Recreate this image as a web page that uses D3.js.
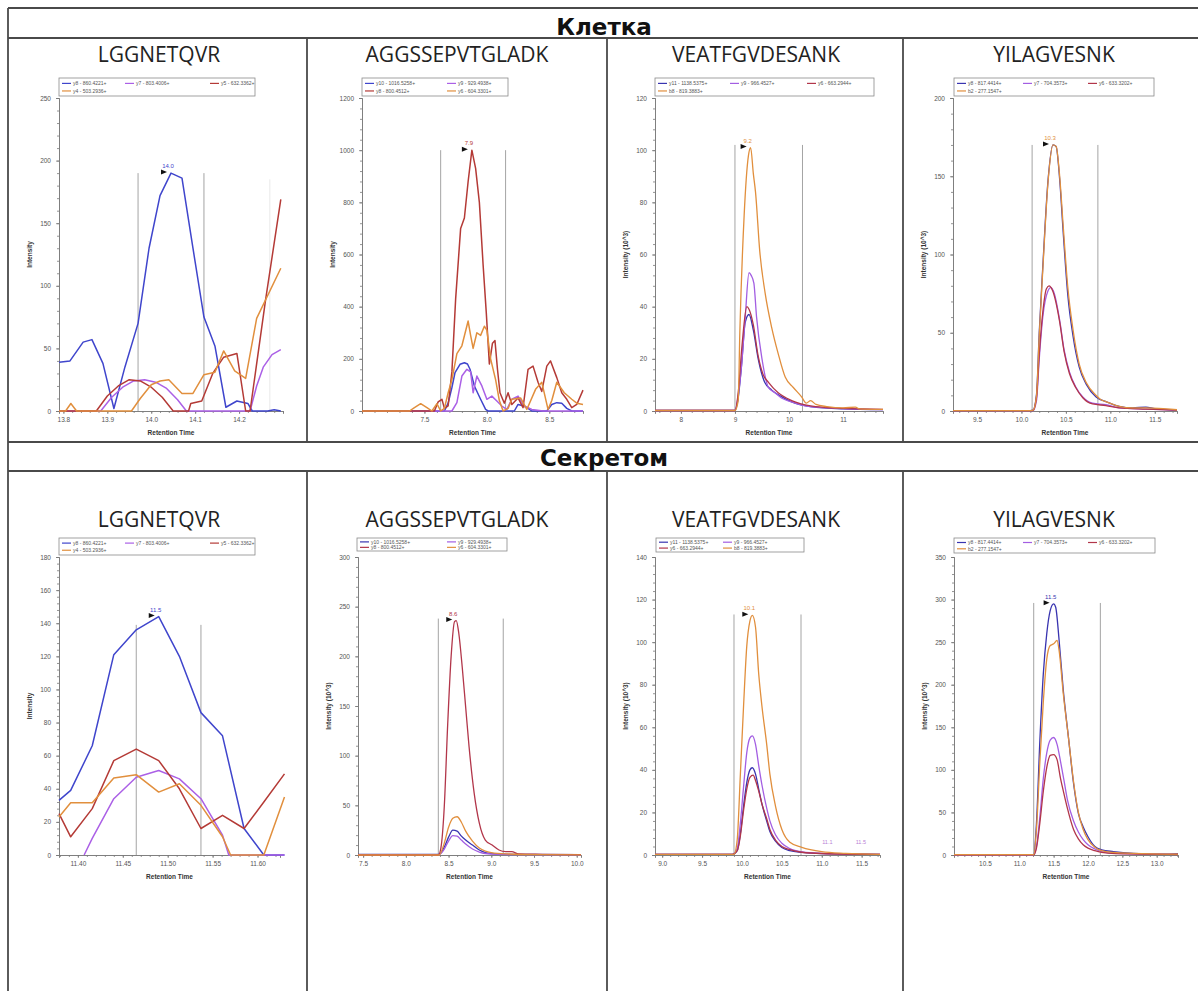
<!DOCTYPE html>
<html>
<head>
<meta charset="utf-8">
<script src="https://cdn.jsdelivr.net/npm/d3@7"></script>
<style>
  body { margin: 0; background: #fff; }
  svg { display: block; }
</style>
</head>
<body>
<svg id="fig" width="1198" height="991"></svg>
<script>
// ---- data ----
const rowTitles = ["Клетка", "Секретом"];
const peptides = ["LGGNETQVR", "AGGSSEPVTGLADK", "VEATFGVDESANK", "YILAGVESNK"];
const ionLabels = [
  ["y8 - 860.4221+", "y7 - 803.4006+", "y5 - 632.3362+", "y4 - 503.2936+"],
  ["y10 - 1016.5258+", "y9 - 929.4938+", "y8 - 800.4512+", "y6 - 604.3301+"],
  ["y11 - 1138.5375+", "y9 - 966.4527+", "y6 - 663.2944+", "b8 - 819.3883+"],
  ["y8 - 817.4414+", "y7 - 704.3573+", "y6 - 633.3202+", "b2 - 277.1547+"]
];

// cell, LGGNETQVR  [retention time, intensity]
const c1_y8 = [[13.79,39],[13.815,40],[13.845,55],[13.865,57],[13.89,38],[13.915,2],[13.94,35],[13.97,70],[13.995,130],[14.02,172],[14.045,190],[14.07,186],[14.095,130],[14.12,75],[14.145,52],[14.17,3],[14.195,8],[14.22,6],[14.23,0],[14.265,0],[14.28,1],[14.295,0]];
const c1_y7 = [[13.79,0],[13.885,0],[13.91,11],[13.935,19],[13.96,24],[13.985,25],[14.01,23],[14.035,18],[14.06,9],[14.08,0],[14.225,0],[14.24,20],[14.255,35],[14.275,45],[14.295,49]];
const c1_y5 = [[13.79,0],[13.875,0],[13.9,12],[13.925,20],[13.95,25],[13.975,24],[14.0,19],[14.025,11],[14.05,0],[14.085,0],[14.09,6],[14.115,8],[14.14,30],[14.165,43],[14.195,46],[14.215,0],[14.225,0],[14.26,88],[14.295,169]];
const c1_y4 = [[13.79,0],[13.805,0],[13.817,6],[13.83,0],[13.955,0],[13.975,10],[14.0,21],[14.02,24],[14.04,25],[14.07,14],[14.095,14],[14.12,29],[14.145,31],[14.165,48],[14.19,32],[14.215,26],[14.24,74],[14.295,114]];

// cell, AGGSSEPVTGLADK
const c2_y10 = [[7.0,0],[7.66,0],[7.69,30],[7.72,90],[7.745,147],[7.785,179],[7.82,185],[7.845,180],[7.865,160],[7.9,96],[7.95,45],[7.99,6],[8.01,0],[8.22,0],[8.25,25],[8.29,20],[8.32,13],[8.36,0],[8.48,0],[8.52,25],[8.56,32],[8.6,30],[8.64,10],[8.68,0],[8.77,0]];
const c2_y9 = [[7.0,0],[7.72,0],[7.76,32],[7.8,134],[7.84,160],[7.87,150],[7.89,70],[7.92,134],[7.96,96],[8.0,45],[8.04,57],[8.08,38],[8.12,19],[8.16,6],[8.2,45],[8.25,57],[8.3,19],[8.36,6],[8.45,0],[8.77,0]];
const c2_y8 = [[7.0,0],[7.58,0],[7.61,35],[7.64,45],[7.66,10],[7.69,20],[7.72,150],[7.75,430],[7.79,700],[7.82,740],[7.85,880],[7.88,1000],[7.91,930],[7.94,800],[7.97,560],[7.995,380],[8.02,180],[8.045,260],[8.065,270],[8.085,160],[8.105,70],[8.14,30],[8.17,70],[8.2,25],[8.25,50],[8.29,13],[8.33,160],[8.37,172],[8.41,110],[8.44,75],[8.48,172],[8.51,192],[8.56,128],[8.6,70],[8.64,45],[8.68,13],[8.72,25],[8.77,80]];
const c2_y6 = [[7.0,0],[7.38,0],[7.42,13],[7.47,28],[7.52,13],[7.56,0],[7.6,28],[7.63,0],[7.66,10],[7.69,70],[7.72,120],[7.76,220],[7.8,250],[7.85,345],[7.87,290],[7.89,240],[7.92,300],[7.95,290],[7.98,325],[8.0,310],[8.03,200],[8.07,120],[8.1,40],[8.13,0],[8.17,10],[8.2,45],[8.27,50],[8.32,6],[8.39,83],[8.44,110],[8.49,6],[8.52,40],[8.56,110],[8.62,70],[8.68,45],[8.72,30],[8.77,25]];

// cell, VEATFGVDESANK (x10^3)
const c3_y11 = [[7.52,0.2],[9.0,0.2],[9.06,5],[9.12,17],[9.19,34],[9.26,37],[9.34,31],[9.43,20],[9.55,11],[9.68,8],[9.86,5.5],[10.05,3.5],[10.4,1.7],[11.0,0.8],[11.74,0.5]];
const c3_y9 = [[7.52,0.2],[9.0,0.2],[9.06,6],[9.12,17],[9.19,36],[9.26,53],[9.3,52],[9.35,49],[9.4,36],[9.5,20],[9.62,9],[9.74,7],[9.86,5],[10.05,3.5],[10.3,2],[10.9,1],[11.74,0.5]];
const c3_y6 = [[7.52,0.2],[9.0,0.2],[9.06,7],[9.13,25],[9.22,40],[9.26,39],[9.34,33],[9.43,21],[9.52,14],[9.62,11],[9.8,7],[10.05,4],[10.4,2],[11.0,1],[11.74,0.6]];
const c3_b8 = [[7.52,0.2],[9.0,0.2],[9.06,4],[9.09,30],[9.17,75],[9.25,98],[9.29,101],[9.34,91],[9.38,84],[9.46,61],[9.56,45],[9.68,32],[9.8,22],[9.93,13],[10.08,9],[10.23,5.5],[10.32,3],[10.4,4],[10.5,2.5],[10.7,1.7],[11.0,1.2],[11.23,1.5],[11.3,0.8],[11.74,0.6]];

// cell, YILAGVESNK (x10^3)
const c4_y8 = [[9.23,0.3],[10.1,0.3],[10.13,0.5],[10.17,11],[10.2,50],[10.24,92],[10.3,148],[10.355,170],[10.39,169],[10.43,148],[10.47,114],[10.52,75],[10.58,48],[10.65,28],[10.73,17],[10.84,9],[10.95,6],[11.1,3],[11.25,2],[11.4,2.5],[11.5,1.5],[11.75,0.6]];
const c4_y7 = [[9.23,0.3],[10.13,0.3],[10.17,7],[10.2,33],[10.24,60],[10.3,77],[10.33,79],[10.37,75],[10.43,58],[10.48,39],[10.54,25],[10.61,15.5],[10.69,9],[10.8,5],[10.95,4],[11.1,2],[11.4,1.2],[11.75,0.6]];
const c4_y6 = [[9.23,0.3],[10.13,0.3],[10.17,9],[10.2,36],[10.24,63],[10.28,78],[10.31,80],[10.35,77],[10.43,57],[10.48,38],[10.54,24],[10.61,15],[10.69,8.5],[10.8,4.5],[10.95,3.5],[11.1,2],[11.4,1.2],[11.75,0.6]];
const c4_b2 = [[9.23,0.3],[10.1,0.3],[10.13,0.5],[10.17,10],[10.2,48],[10.24,90],[10.3,147],[10.355,170],[10.39,169],[10.43,150],[10.47,118],[10.52,80],[10.58,52],[10.65,30],[10.73,18],[10.84,10],[10.9,7],[10.95,6],[11.1,3],[11.25,2],[11.4,2],[11.75,0.8]];

// secretome, LGGNETQVR
const s1_y8 = [[11.379,33],[11.392,39],[11.416,66],[11.44,121],[11.465,136],[11.49,144],[11.513,120],[11.537,86],[11.561,72],[11.585,16],[11.607,0],[11.63,0]];
const s1_y7 = [[11.407,0],[11.416,10],[11.44,34],[11.465,47],[11.49,51],[11.513,46],[11.537,34],[11.561,12],[11.568,0],[11.63,0]];
const s1_y5 = [[11.379,25],[11.392,11],[11.416,28],[11.44,57],[11.465,64],[11.49,57],[11.513,40],[11.537,16],[11.561,24],[11.585,16],[11.607,32],[11.63,49]];
const s1_y4 = [[11.379,23],[11.392,31.5],[11.416,31.5],[11.44,46.5],[11.465,48.5],[11.49,38],[11.513,43],[11.537,30],[11.561,11],[11.57,0],[11.607,0],[11.63,35]];

// secretome, AGGSSEPVTGLADK (x10^3)
const s2_y10 = [[7.44,0.5],[8.38,0.5],[8.41,2],[8.45,8],[8.5,18],[8.55,25],[8.6,24],[8.65,19],[8.7,15],[8.78,10],[8.86,5],[8.93,2.5],[9.0,1.5],[9.2,0.6],[10.05,0.3]];
const s2_y9 = [[7.44,0.3],[8.38,0.3],[8.41,1.5],[8.45,6],[8.5,14],[8.55,19.5],[8.6,19],[8.65,15],[8.7,11],[8.78,6],[8.86,3],[8.93,1.5],[9.0,1],[9.3,0.4],[10.05,0.2]];
const s2_y8 = [[7.44,0],[8.38,0],[8.41,7],[8.45,49],[8.49,132],[8.53,200],[8.57,235],[8.59,236],[8.62,223],[8.66,189],[8.7,149],[8.74,109],[8.8,62],[8.86,32],[8.93,15],[9.01,10],[9.09,5],[9.17,3.4],[9.24,3.4],[9.32,1],[9.6,0.7],[10.05,0.3]];
const s2_y6 = [[7.44,0],[8.39,0],[8.45,12],[8.5,28],[8.55,37],[8.6,38.5],[8.65,33],[8.7,24],[8.78,14],[8.86,7],[8.93,4],[9.0,2.5],[9.2,1],[9.5,0.3],[10.05,0.2]];

// secretome, VEATFGVDESANK (x10^3)
const s3_y11 = [[8.91,0.3],[9.88,0.3],[9.94,2],[9.98,10],[10.02,23],[10.06,34],[10.1,40],[10.13,41],[10.17,38],[10.21,31],[10.25,24],[10.31,16],[10.35,11],[10.42,6.5],[10.5,3.5],[10.6,2],[10.75,1.2],[11.0,0.6],[11.73,0.3]];
const s3_y9 = [[8.91,0.3],[9.88,0.3],[9.94,3],[9.98,15],[10.02,32],[10.06,48],[10.1,55],[10.13,56],[10.17,52],[10.21,42],[10.25,33],[10.31,22],[10.35,16],[10.42,9.5],[10.5,5.5],[10.6,3],[10.75,1.5],[11.0,0.8],[11.73,0.3]];
const s3_y6 = [[8.91,0.3],[9.88,0.3],[9.94,2],[9.98,9],[10.02,21],[10.06,31],[10.1,36.5],[10.14,37.5],[10.17,35],[10.21,30],[10.25,24],[10.31,17],[10.35,12],[10.42,7],[10.5,4],[10.6,2.5],[10.75,1.3],[11.0,0.7],[11.73,0.3]];
const s3_b8 = [[8.91,0.3],[9.9,0.3],[9.94,7],[9.98,38],[10.02,70],[10.06,98],[10.1,110],[10.13,112.6],[10.17,107],[10.21,85],[10.25,70],[10.31,52],[10.35,38],[10.42,23],[10.5,12],[10.6,6],[10.75,3.6],[11.0,1.6],[11.3,0.8],[11.73,0.3]];

// secretome, YILAGVESNK (x10^3)
const s4_y8 = [[10.05,0.5],[11.21,0.5],[11.25,37],[11.3,135],[11.35,213],[11.4,260],[11.45,287],[11.5,295],[11.53,291],[11.58,252],[11.64,194],[11.72,135],[11.79,84],[11.86,49],[11.93,33],[12.0,21.5],[12.1,10],[12.2,6],[12.37,4],[12.66,2],[13.15,1],[13.31,1.5]];
const s4_y7 = [[10.05,0.3],[11.21,0.3],[11.25,10],[11.3,45],[11.35,90],[11.4,120],[11.45,135],[11.5,138],[11.55,130],[11.6,110],[11.65,88],[11.7,65],[11.79,40],[11.86,27],[11.93,18],[12.0,12],[12.1,7],[12.2,4],[12.4,2],[13.31,0.8]];
const s4_y6 = [[10.05,0.3],[11.21,0.3],[11.25,8],[11.3,38],[11.35,75],[11.4,103],[11.45,117],[11.5,118],[11.55,112],[11.6,90],[11.65,72],[11.7,55],[11.79,30],[11.86,19],[11.93,12],[12.0,8],[12.1,5],[12.2,3],[12.4,1.5],[13.31,0.6]];
const s4_b2 = [[10.05,0.5],[11.21,0.5],[11.25,30],[11.3,110],[11.35,180],[11.4,230],[11.45,246],[11.5,248],[11.55,252],[11.58,240],[11.64,190],[11.72,135],[11.79,86],[11.86,50],[11.93,30],[12.0,18],[12.1,9],[12.2,5],[12.37,3],[12.66,2],[13.31,1]];

// axis settings, integration bounds and apex labels
const xDomains = [[13.79,14.30],[7.0,8.77],[7.52,11.74],[9.23,11.75],[11.379,11.625],[7.44,10.05],[8.91,11.73],[10.05,13.31]];
const xTickVals = [[13.8,13.9,14.0,14.1,14.2],[7.5,8.0,8.5],[8,9,10,11],[9.5,10.0,10.5,11.0,11.5],
                   [11.40,11.45,11.50,11.55,11.60],[7.5,8.0,8.5,9.0,9.5,10.0],[9.0,9.5,10.0,10.5,11.0,11.5],[10.5,11.0,11.5,12.0,12.5,13.0]];
const yMaxes = [250,1200,120,200,180,300,140,350];
const ySteps = [50,200,20,50,20,50,20,50];
const boundaries = [[13.97,14.12],[7.63,8.15],[9.0,10.25],[10.12,10.86],[11.465,11.537],[8.38,9.14],[9.9,10.74],[11.21,12.18]];
const boundaryTops = [190,1000,102,170,139,238,113,296];
const apexes = [[14.045,190,"14.0",0],[7.88,1000,"7.9",2],[9.29,101,"9.2",3],[10.355,170,"10.3",3],
                [11.49,144,"11.5",0],[8.59,236,"8.6",2],[10.13,112.6,"10.1",3],[11.5,295,"11.5",0]];
const extraApexes = [[], [], [], [], [], [], [[11.07,3.5,"11.1"],[11.49,3.5,"11.5"]], []];

const panelSeries = [
  [c1_y8,c1_y7,c1_y5,c1_y4],[c2_y10,c2_y9,c2_y8,c2_y6],[c3_y11,c3_y9,c3_y6,c3_b8],[c4_y8,c4_y7,c4_y6,c4_b2],
  [s1_y8,s1_y7,s1_y5,s1_y4],[s2_y10,s2_y9,s2_y8,s2_y6],[s3_y11,s3_y9,s3_y6,s3_b8],[s4_y8,s4_y7,s4_y6,s4_b2]
];

// ---- layout ----
const W = 1198, H = 991;
const colX = [8, 307, 607, 903];
const hLines = [8, 38, 442, 471];
const titleX = [159, 457, 756, 1054];
const rowGeom = [
  {titleY: 62, y0: 411, y1: 98, legY: 78},
  {titleY: 527, y0: 855, y1: 557, legY: 538}
];
const plotX = [[59,283],[362,583],[655,883],[953,1177],[59,280],[358,581],[655,880],[954,1178]];
const legendBoxes = [
  {x:59, w:196, h:18, cols:[3,66,151]}, {x:362, w:146, h:18, cols:[3,85]},
  {x:655, w:219, h:18, cols:[3,75,152]}, {x:954, w:200, h:18, cols:[3,69,134]},
  {x:59, w:196, h:17, cols:[3,66,151]}, {x:357, w:150, h:13, cols:[3,90]},
  {x:656, w:148, h:14, cols:[3,67]}, {x:954, w:201, h:15, cols:[3,69,134]}
];
const smoothPanel = [false,false,true,true,false,true,true,true];
const scaled = [false,false,true,true,false,true,true,true];
const jaggedColors = ["#3f45cc", "#ab60e6", "#b43a36", "#e18f3d"];
const smoothColors = ["#3934b0", "#a35ee2", "#b2364a", "#e18f3d"];

const svg = d3.select("#fig");
svg.append("rect").attr("width", W).attr("height", H).attr("fill", "#fff");

// table grid
const grid = svg.append("g").attr("stroke", "#4a4a4a").attr("stroke-width", 1.8);
hLines.forEach(y => grid.append("line").attr("x1", colX[0]).attr("x2", W).attr("y1", y).attr("y2", y));
grid.append("line").attr("x1", colX[0]).attr("x2", colX[0]).attr("y1", hLines[0]).attr("y2", H);
colX.slice(1).forEach(x => {
  grid.append("line").attr("x1", x).attr("x2", x).attr("y1", hLines[1]).attr("y2", hLines[2]);
  grid.append("line").attr("x1", x).attr("x2", x).attr("y1", hLines[3]).attr("y2", H);
});

// row headers
[35, 466].forEach((y, i) => {
  svg.append("text").attr("x", 604).attr("y", y).attr("text-anchor", "middle")
    .attr("font-family", "DejaVu Sans").attr("font-weight", "bold").attr("font-size", 23)
    .attr("fill", "#111").text(rowTitles[i]);
});

panelSeries.forEach((series, p) => {
  const row = Math.floor(p / 4), col = p % 4;
  const rg = rowGeom[row];
  const colors = smoothPanel[p] ? smoothColors : jaggedColors;
  const g = svg.append("g");

  g.append("text").attr("x", titleX[col]).attr("y", rg.titleY).attr("text-anchor", "middle")
    .attr("font-family", "Open Sans").attr("font-size", 21).attr("fill", "#222").text(peptides[col]);

  const x = d3.scaleLinear().domain(xDomains[p]).range(plotX[p]);
  const y = d3.scaleLinear().domain([0, yMaxes[p]]).range([rg.y0, rg.y1]);

  // integration boundaries
  boundaries[p].forEach(b => {
    g.append("line").attr("x1", x(b)).attr("x2", x(b)).attr("y1", y(0)).attr("y2", y(boundaryTops[p]))
      .attr("stroke", "#9a9a9a").attr("stroke-width", 0.9);
  });
  if (p === 0) {
    g.append("line").attr("x1", x(14.27)).attr("x2", x(14.27)).attr("y1", y(0)).attr("y2", y(185))
      .attr("stroke", "#e6e6e6").attr("stroke-width", 0.9);
  }

  // axes
  const step = ySteps[p];
  const yAxis = d3.axisLeft(y).tickValues(d3.range(0, yMaxes[p] + 1e-9, step)).tickSize(3).tickPadding(5)
    .tickFormat(d3.format("d"));
  const yMinor = d3.axisLeft(y).tickValues(d3.range(0, yMaxes[p] + 1e-9, step / 5)).tickSize(2).tickFormat("");
  const xt = xTickVals[p];
  const xStep = xt[1] - xt[0];
  const fmt = p === 2 ? d3.format("d") : (p === 4 ? d3.format(".2f") : d3.format(".1f"));
  const xAxis = d3.axisBottom(x).tickValues(xt).tickSize(3).tickPadding(3).tickFormat(fmt);
  const minorVals = d3.range(Math.ceil(xDomains[p][0] / (xStep / 5)), Math.floor(xDomains[p][1] / (xStep / 5)) + 1)
    .map(k => k * xStep / 5);
  const xMinor = d3.axisBottom(x).tickValues(minorVals).tickSize(2).tickFormat("");

  [[yMinor, `translate(${plotX[p][0]},0)`], [yAxis, `translate(${plotX[p][0]},0)`],
   [xMinor, `translate(0,${rg.y0})`], [xAxis, `translate(0,${rg.y0})`]].forEach(([ax, tr]) => {
    const a = g.append("g").attr("transform", tr).call(ax);
    a.selectAll("path, line").attr("stroke", "#7a7a7a").attr("stroke-width", 0.8);
    a.selectAll("text").attr("font-family", "Liberation Sans").attr("font-size", 6.5).attr("fill", "#555");
  });

  // axis titles
  const midX = (plotX[p][0] + plotX[p][1]) / 2;
  g.append("text").attr("x", midX).attr("y", rg.y0 + 24).attr("text-anchor", "middle")
    .attr("font-family", "Liberation Sans").attr("font-weight", "bold").attr("font-size", 6.5)
    .attr("fill", "#333").text("Retention Time");
  const midY = (rg.y0 + rg.y1) / 2;
  g.append("text").attr("transform", `translate(${plotX[p][0] - 27},${midY}) rotate(-90)`)
    .attr("text-anchor", "middle").attr("font-family", "Liberation Sans").attr("font-weight", "bold")
    .attr("font-size", 6.5).attr("fill", "#333").text(scaled[p] ? "Intensity (10^3)" : "Intensity");

  // traces
  const line = d3.line().x(d => x(d[0])).y(d => y(d[1]))
    .curve(smoothPanel[p] ? d3.curveMonotoneX : d3.curveLinear);
  series.forEach((s, i) => {
    g.append("path").datum(s).attr("d", line).attr("fill", "none")
      .attr("stroke", colors[i]).attr("stroke-width", smoothPanel[p] ? 1.3 : 1.5)
      .attr("stroke-linejoin", "round");
  });

  // apex marker
  const [ax, ay, alab, ac] = apexes[p];
  const px = x(ax), py = y(ay);
  g.append("path").attr("d", `M${px - 10},${py - 3.5}L${px - 4},${py - 1}L${px - 10},${py + 1.5}Z`).attr("fill", "#111");
  g.append("text").attr("x", px - 3).attr("y", py - 5).attr("text-anchor", "middle")
    .attr("font-family", "Liberation Sans").attr("font-size", 6).attr("fill", colors[ac]).text(alab);
  extraApexes[p].forEach(([ex, ey, el]) => {
    g.append("text").attr("x", x(ex)).attr("y", y(ey) - 4).attr("text-anchor", "middle")
      .attr("font-family", "Liberation Sans").attr("font-size", 5.5).attr("fill", "#b97fd6").text(el);
  });

  // legend
  const lb = legendBoxes[p];
  const lg = g.append("g").attr("transform", `translate(${lb.x},${rg.legY})`);
  lg.append("rect").attr("width", lb.w).attr("height", lb.h).attr("fill", "#fff")
    .attr("stroke", "#8a8a8a").attr("stroke-width", 0.8);
  const nc = lb.cols.length;
  ionLabels[col].forEach((lab, i) => {
    const cx = lb.cols[i % nc], r = Math.floor(i / nc);
    const ly = lb.h * (0.3 + 0.42 * r);
    lg.append("line").attr("x1", cx).attr("x2", cx + 9).attr("y1", ly).attr("y2", ly)
      .attr("stroke", colors[i]).attr("stroke-width", 1.2);
    lg.append("text").attr("x", cx + 11).attr("y", ly + 1.8).attr("font-family", "Liberation Sans")
      .attr("font-size", 5).attr("fill", "#555").text(lab);
  });
});
</script>
</body>
</html>
